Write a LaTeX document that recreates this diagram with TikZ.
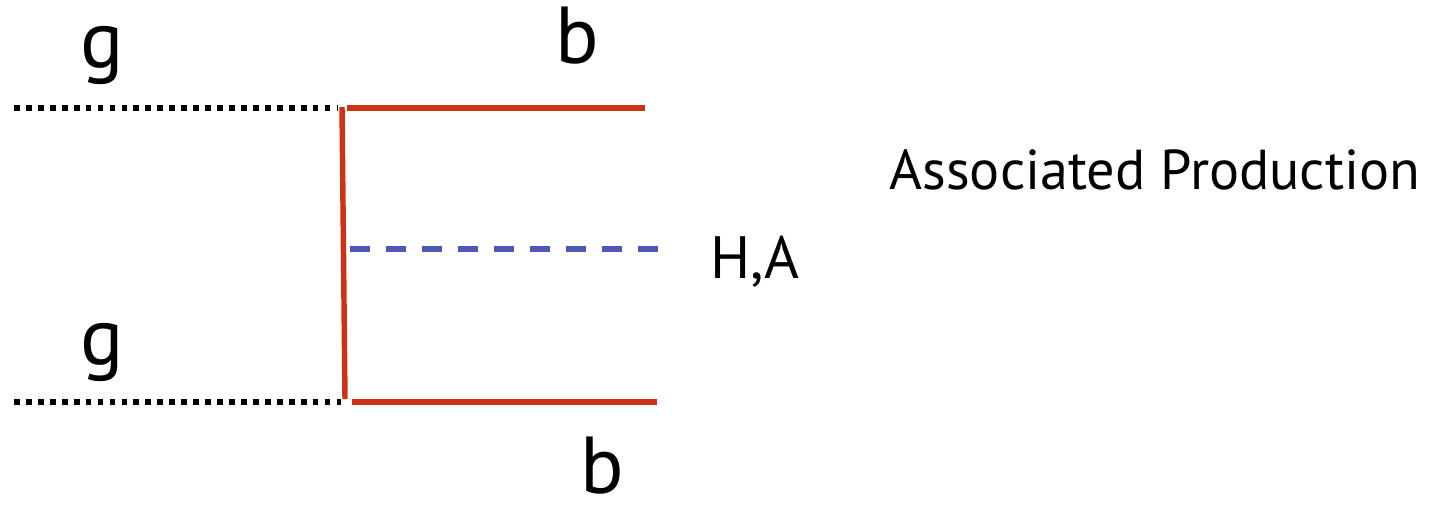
\documentclass[tikz,border=0pt]{standalone}
\usepackage{fontspec}
\setmainfont{PT Sans}
\definecolor{QuarkRed}{HTML}{CC3314}
\definecolor{HiggsBlue}{HTML}{5055BB}

\begin{document}
\begin{tikzpicture}[x=0.02cm,y=-0.02cm,
    gluon/.style={black,line width=3.3pt,dash pattern=on 3.3pt off 3.5pt},
    quark/.style={QuarkRed,line width=3.1pt},
    higgs/.style={HiggsBlue,line width=3.4pt,dash pattern=on 11.5pt off 9pt},
    lbl/.style={inner sep=0pt,font=\fontsize{46}{46}\selectfont}]
      \useasboundingbox (0,0) rectangle (1433,504);
      % vertices and free ends
      \coordinate (gTin) at (14,108);
      \coordinate (gBin) at (14,402);
      \coordinate (vT) at (342,107);
      \coordinate (vB) at (345,399);
      \coordinate (bTout) at (645,108);
      \coordinate (bBout) at (657,402);
      \coordinate (hV) at (350,249);
      \coordinate (hOut) at (663,249);
      % lines
      \draw[gluon] (gTin) -- ([xshift=-2pt]vT |- gTin);
      \draw[gluon] (gBin) -- ([xshift=-2pt]vB |- gBin);
      \draw[quark] ([xshift=3pt]vT |- bTout) -- (bTout);
      \draw[quark] (vT) -- (vB);
      \draw[quark] ([xshift=4pt]vB |- bBout) -- (bBout);
      \draw[higgs] (hV) -- (hOut);
      % labels
      \node[lbl] (gT) at (102,55) {g};
      \node[lbl] (gB) at (102,352) {g};
      \node[lbl] (bT) at (577,36) {b};
      \node[lbl] (bB) at (602,466) {b};
      \node[lbl,font=\fontsize{34}{34}\selectfont] (HA) at (755,262) {H,A};
      \node[lbl,font=\fontsize{32}{32}\selectfont] (title) at (1155,170) {Associated Production};
    \end{tikzpicture}
\end{document}
